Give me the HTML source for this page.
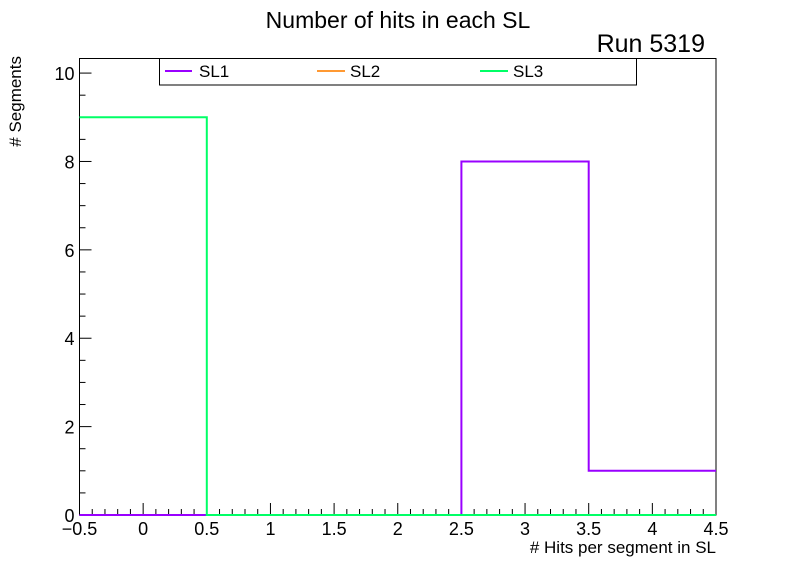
<!DOCTYPE html>
<html><head><meta charset="utf-8"><style>
html,body{margin:0;padding:0;background:#fff;}
svg{display:block;font-family:"Liberation Sans",Arial,sans-serif;}
</style></head><body>
<svg id="chart" width="796" height="572" viewBox="0 0 796 572" xmlns="http://www.w3.org/2000/svg">
<rect x="0" y="0" width="796" height="572" fill="#fff"/>
<text x="398" y="28" font-size="23" text-anchor="middle">Number of hits in each SL</text>
<text x="705" y="52" font-size="25" text-anchor="end">Run 5319</text>
<rect x="79.5" y="58.5" width="636.5" height="456.5" fill="none" stroke="#000" stroke-width="1"/>
<g id="ticks"></g>
<g id="series"></g>
<g>
<rect x="159.5" y="58.5" width="477" height="26.5" fill="#fff" stroke="#000"/>
<line x1="165" y1="71" x2="192" y2="71" stroke="#9900ff" stroke-width="2"/>
<text x="199" y="77" font-size="17">SL1</text>
<line x1="317" y1="71" x2="345" y2="71" stroke="#ff9933" stroke-width="2"/>
<text x="350" y="77" font-size="17">SL2</text>
<line x1="480" y1="71" x2="508" y2="71" stroke="#00ff66" stroke-width="2"/>
<text x="513" y="77" font-size="17">SL3</text>
</g>
<text x="716" y="553" font-size="17" text-anchor="end"># Hits per segment in SL</text>
<text transform="translate(21,56) rotate(-90)" font-size="17" text-anchor="end"># Segments</text>
</svg>
<script>
const binEdges = [-0.5, 0.5, 1.5, 2.5, 3.5, 4.5];
const sl1Values = [0, 0, 0, 8, 1];
const sl2Values = [0, 0, 0, 0, 0];
const sl3Values = [9, 0, 0, 0, 0];
const xTicks = [-0.5, 0, 0.5, 1, 1.5, 2, 2.5, 3, 3.5, 4, 4.5];
const yTicks = [0, 2, 4, 6, 8, 10];
const NS = "http://www.w3.org/2000/svg";
const X0 = 79.5, X1 = 716, Y0 = 515, YTOP = 58.5;
const xMin = -0.5, xMax = 4.5, yMax = 10.33;
function sx(v){return X0 + (v - xMin) / (xMax - xMin) * (X1 - X0);}
function sy(v){return Y0 - v / yMax * (Y0 - YTOP);}
const tg = document.getElementById('ticks');
function line(g,x1,y1,x2,y2,col,w){const l=document.createElementNS(NS,'line');l.setAttribute('x1',x1);l.setAttribute('y1',y1);l.setAttribute('x2',x2);l.setAttribute('y2',y2);l.setAttribute('stroke',col);l.setAttribute('stroke-width',w);g.appendChild(l);return l;}
for(let i=0;i<=50;i++){const v=xMin+i*0.1;const major=(i%5===0);const x=sx(v);
 const l=line(tg,x,Y0,x,Y0-(major?12:6),'#000',1);
 
 }
xTicks.forEach(v=>{const t=document.createElementNS(NS,'text');t.setAttribute('x',sx(v));t.setAttribute('y',535);t.setAttribute('font-size','18');t.setAttribute('text-anchor','middle');t.textContent=(v<0?'\u2212':'')+Math.abs(v);
 
 
 tg.appendChild(t);});
for(let i=0;i<=20;i++){const v=i*0.5;const major=(i%4===0);const y=sy(v);
 const l=line(tg,X0,y,X0+(major?12:6),y,'#000',1);
 
 }
yTicks.forEach(v=>{const t=document.createElementNS(NS,'text');t.setAttribute('x',X0-5);t.setAttribute('y',sy(v)+7);t.setAttribute('font-size','18');t.setAttribute('text-anchor','end');t.textContent=v;
 
 
 tg.appendChild(t);});
const sg=document.getElementById('series');
function hist(vals,col,name){let d='M'+sx(binEdges[0])+','+sy(vals[0]);
 for(let i=0;i<vals.length;i++){if(i>0)d+=' L'+sx(binEdges[i])+','+sy(vals[i]);d+=' L'+sx(binEdges[i+1])+','+sy(vals[i]);}
 const p=document.createElementNS(NS,'path');p.setAttribute('d',d);p.setAttribute('fill','none');p.setAttribute('stroke',col);p.setAttribute('stroke-width','2');
 
 
 sg.appendChild(p);}
hist(sl2Values,'#ff9933','series-sl2');
hist(sl1Values,'#9900ff','series-sl1');
hist(sl3Values,'#00ff66','series-sl3');
</script>
</body></html>
